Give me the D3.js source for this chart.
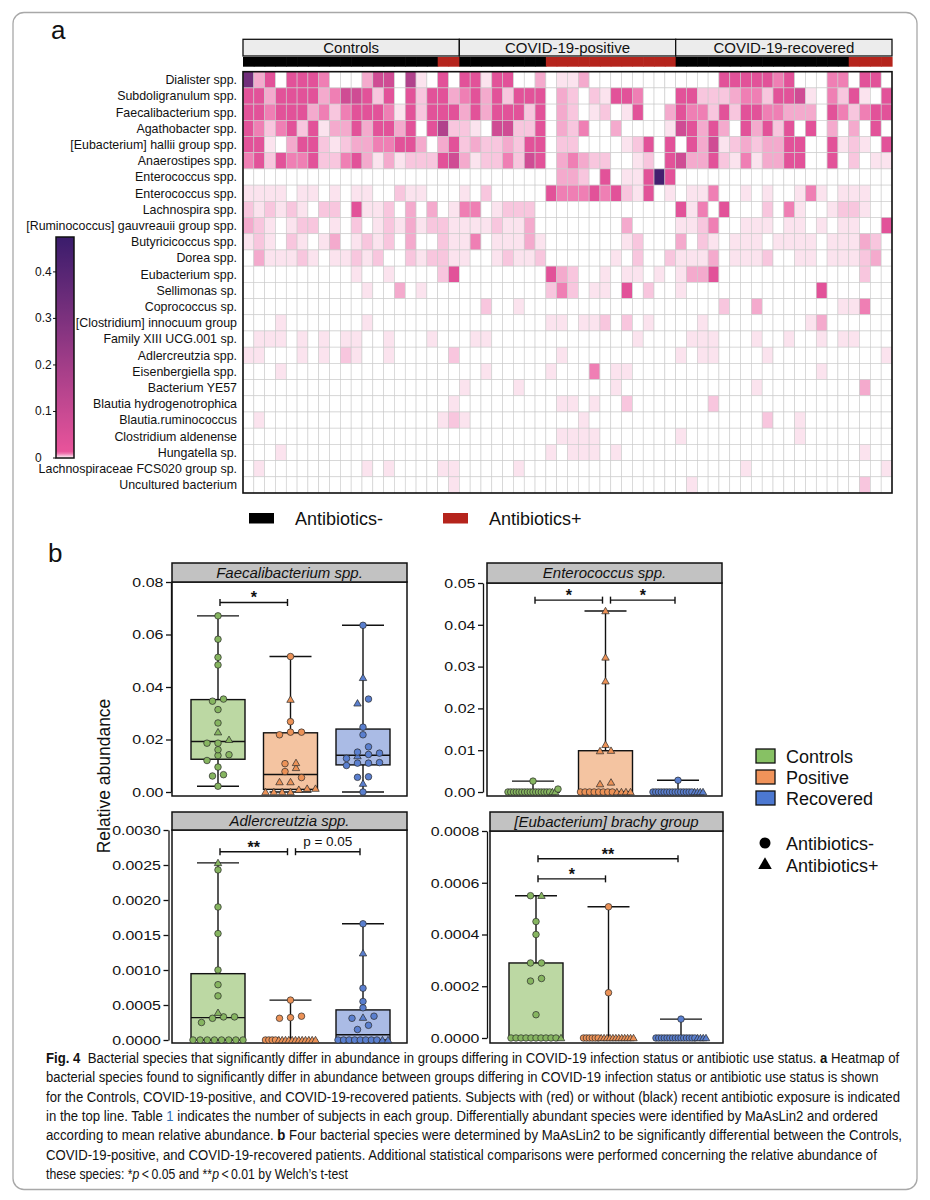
<!DOCTYPE html>
<html><head><meta charset="utf-8">
<script src="https://cdn.jsdelivr.net/npm/d3@7"></script>
<style>
body{margin:0;background:#fff}
svg{display:block}
text{font-family:"Liberation Sans",Arial,Helvetica,sans-serif;fill:#111}
</style>
</head><body>
<svg id="chart" width="930" height="1200"></svg>
<script>
// ===================== DATA =====================
// Heatmap (panel a)
const species = ["Dialister spp.","Subdoligranulum spp.","Faecalibacterium spp.","Agathobacter spp.",
  "[Eubacterium] hallii group spp.","Anaerostipes spp.","Enterococcus spp.","Enterococcus spp.",
  "Lachnospira spp.","[Ruminococcus] gauvreauii group spp.","Butyricicoccus spp.","Dorea spp.",
  "Eubacterium spp.","Sellimonas sp.","Coprococcus sp.","[Clostridium] innocuum group",
  "Family XIII UCG.001 sp.","Adlercreutzia spp.","Eisenbergiella spp.","Bacterium YE57",
  "Blautia hydrogenotrophica","Blautia.ruminococcus","Clostridium aldenense","Hungatella sp.",
  "Lachnospiraceae FCS020 group sp.","Uncultured bacterium"];
const cohortNames = ["Controls","COVID-19-positive","COVID-19-recovered"];
const cohortSizes = [20,20,20];
// 1 = recent antibiotic exposure (red), 0 = none (black), one char per subject column
const antibioticsBySubject = "00000000000000000011" + "00000000111111111111" + "00000000000000001111";
// estimated relative abundance for each intensity code
const abundanceOfCode = [0, 0.002, 0.004, 0.006, 0.009, 0.03, 0.08, 0.16, 0.33, 0.45];
// one string per species, one code per subject column (60 columns)
const heatCodes = [
 "835055540003660710505515500301130000000000005555545000440550",
 "553555534665250525534535255503202155400055222344255610425105",
 "554555342455541525553535552503201201500354425255443330542455",
 "542452513353553505722106622503240030000165353053525050303050",
 "551035521233445530352322325502200001250505361232335500512105",
 "452544522453131222563122426503432200120563352141335500502011",
 "000000000000000000000000000003320501159500000000000000000000",
 "111101101011002110001020000054445452150101140010100141011100",
 "212121022051120303014401222000000000000051405000204100122100",
 "321012201020121312211112113000000003000011240011101101011005",
 "121021013012120300211401113100000001200030210111011110111320",
 "031112101121200212211001211200000010200211130111200110111230",
 "000000000010010000250000000053200101101013350000000000000200",
 "000000000001003010000000000024201105020010000000000005000000",
 "000000000000000000000020010000000000000000002003000000011400",
 "000100000001000000000000000011011202010000100000000013000000",
 "011101010110010001000110000000000000100001110001001001011000",
 "110001010210010000020000000001000000000010110000100000000001",
 "000100000000000000000010000010004011000000000000000001000000",
 "000000000000000000001000010000000010000000000001000000000300",
 "000000000000000000010000000001101002000000020000000000000000",
 "010000000000000000121000000000010000000000000000200100000000",
 "000000000000000000000000000001111000000010000000000100000000",
 "000100000000000000000000000010111010000000000000000000000100",
 "010000000001010000110000010000000000000000000010000000000001",
 "000000000000000000010000000000000000000001000000000000000200"];
const colorbarTicks = [0, 0.1, 0.2, 0.3, 0.4];

// Box plots (panel b): values per group, split by antibiotic exposure
const boxGroups = ["Controls","Positive","Recovered"];
const faecalControlsAbxNeg = [0.0671,0.0582,0.0513,0.0484,0.0354,0.0346,0.0314,0.0263,0.0186,0.0186,0.0161,0.0142,0.0139,0.012,0.0095,0.0066,0.0061,0.0022];
const faecalControlsAbxPos = [0.0228,0.0199];
const faecalPositiveAbxNeg = [0.0516,0.0268,0.0228,0.0218,0.0228,0.0108,0.0078,0.0055];
const faecalPositiveAbxPos = [0.0352,0.0111,0.0092,0.0038,0.0038,0.0013,0.0013,0.0009,0,0,0,0];
const faecalRecoveredAbxNeg = [0.0635,0.0354,0.0247,0.0218,0.0172,0.0152,0.0148,0.0143,0.0128,0.0112,0.011,0.011,0.0101,0.0058,0.0056,0];
const faecalRecoveredAbxPos = [0.0435,0.0338,0.0137,0.0032];

const enteroControlsAbxNeg = [0.0026,0.0007,0,0,0,0,0,0,0,0,0,0,0,0,0,0,0,0];
const enteroControlsAbxPos = [0,0];
const enteroPositiveAbxNeg = [0,0,0,0,0,0,0,0];
const enteroPositiveAbxPos = [0.0433,0.0322,0.0265,0.0113,0.0099,0.0098,0.0023,0.0019,0,0,0,0];
const enteroRecoveredAbxNeg = [0.0028,0,0,0,0,0,0,0,0,0,0,0,0,0,0,0];
const enteroRecoveredAbxPos = [0,0,0,0];

const adlerControlsAbxNeg = [0.00243,0.0019,0.00152,0.001,0.00079,0.00063,0.00033,0.00033,0.00031,0.00025,0,0,0,0,0,0,0,0];
const adlerControlsAbxPos = [0.00253,0.00039];
const adlerPositiveAbxNeg = [0.00057,0.00034,0.00032,0.00031,0,0,0,0];
const adlerPositiveAbxPos = [0,0,0,0,0,0,0,0,0,0,0,0];
const adlerRecoveredAbxNeg = [0.00166,0.00074,0.00055,0.00046,0.00034,0.00031,0.00021,0.00015,0,0,0,0,0,0,0,0];
const adlerRecoveredAbxPos = [0.00124,0.00032,0,0];

const brachyControlsAbxNeg = [0.00055,0.00045,0.0004,0.00029,0.00029,0.00023,0.00022,0.00009,0,0,0,0,0,0,0,0,0,0];
const brachyControlsAbxPos = [0.00055,0];
const brachyPositiveAbxNeg = [0.000507,0.000175,0,0,0,0,0,0];
const brachyPositiveAbxPos = [0,0,0,0,0,0,0,0,0,0,0,0];
const brachyRecoveredAbxNeg = [0.000073,0,0,0,0,0,0,0,0,0,0,0,0,0,0,0];
const brachyRecoveredAbxPos = [0,0,0,0];

const faecalTicks = [0,0.02,0.04,0.06,0.08];
const enteroTicks = [0,0.01,0.02,0.03,0.04,0.05];
const adlerTicks = [0,0.0005,0.001,0.0015,0.002,0.0025,0.003];
const brachyTicks = [0,0.0002,0.0004,0.0006,0.0008];

// significance brackets: [from, to, height, label]
const faecalSignif = [["Controls","Positive",0.0722,"*"]];
const enteroSignif = [["Controls","Positive",0.0459,"*"],["Positive","Recovered",0.0459,"*"]];
const adlerSignif = [["Controls","Positive",0.00269,"**"],["Positive","Recovered",0.00269,"p = 0.05"]];
const brachySignif = [["Controls","Positive",0.000615,"*"],["Controls","Recovered",0.000693,"**"]];

const captionLines = [
 [["b","Fig. 4"],["n","  Bacterial species that significantly differ in abundance in groups differing in COVID-19 infection status or antibiotic use status. "],["b","a"],["n"," Heatmap of"]],
 [["n","bacterial species found to significantly differ in abundance between groups differing in COVID-19 infection status or antibiotic use status is shown"]],
 [["n","for the Controls, COVID-19-positive, and COVID-19-recovered patients. Subjects with (red) or without (black) recent antibiotic exposure is indicated"]],
 [["n","in the top line. Table "],["l","1"],["n"," indicates the number of subjects in each group. Differentially abundant species were identified by MaAsLin2 and ordered"]],
 [["n","according to mean relative abundance. "],["b","b"],["n"," Four bacterial species were determined by MaAsLin2 to be significantly differential between the Controls,"]],
 [["n","COVID-19-positive, and COVID-19-recovered patients. Additional statistical comparisons were performed concerning the relative abundance of"]],
 [["n","these species: *"],["i","p"],["n","\u2009<\u20090.05 and **"],["i","p"],["n","\u2009<\u20090.01 by Welch\u2019s t-test"]]
];

// ===================== DRAWING =====================
const svg = d3.select("#chart");

// figure frame
svg.append("rect").attr("x",13).attr("y",12.5).attr("width",904).attr("height",1177)
  .attr("rx",11).attr("fill","none").attr("stroke","#a8a8a8").attr("stroke-width",1.3);

svg.append("text").attr("x",51).attr("y",39).attr("font-size",26).text("a");
svg.append("text").attr("x",48).attr("y",562).attr("font-size",26).text("b");

// ---------- Heatmap ----------
const nCols = d3.sum(cohortSizes);
const hx = d3.scaleBand().domain(d3.range(nCols)).range([243,892]);
const hy = d3.scaleBand().domain(d3.range(species.length)).range([71.7,493]);
const heatColor = d3.scaleLinear().domain([0,0.012,0.475])
  .range(["#ffffff","#e9549b","#3a1c6c"]).clamp(true);

const cells = [];
heatCodes.forEach((row,r)=>{ for(let c=0;c<nCols;c++) cells.push({r,c,v:abundanceOfCode[+row[c]]}); });
svg.append("g").selectAll("rect").data(cells).join("rect")
  .attr("x",d=>hx(d.c)).attr("y",d=>hy(d.r))
  .attr("width",hx.bandwidth()).attr("height",hy.bandwidth())
  .attr("fill",d=>heatColor(d.v)).attr("stroke","#cbcbcb").attr("stroke-width",0.6);
svg.append("rect").attr("x",243).attr("y",71.7).attr("width",649).attr("height",493-71.7)
  .attr("fill","none").attr("stroke","#111").attr("stroke-width",1.6);

svg.append("g").selectAll("text").data(species).join("text")
  .attr("x",237).attr("y",(d,i)=>hy(i)+hy.bandwidth()/2+4.3)
  .attr("text-anchor","end").attr("font-size",12.4).text(d=>d);

// cohort header
let start = 0;
cohortNames.forEach((name,i)=>{
  const x0 = hx(start), x1 = hx(start+cohortSizes[i]-1)+hx.bandwidth();
  svg.append("rect").attr("x",x0).attr("y",39.3).attr("width",x1-x0).attr("height",16.7)
    .attr("fill","#ececec").attr("stroke","#111").attr("stroke-width",1.3);
  svg.append("text").attr("x",(x0+x1)/2).attr("y",53.2).attr("text-anchor","middle")
    .attr("font-size",15).text(name);
  start += cohortSizes[i];
});
svg.append("g").selectAll("rect").data(antibioticsBySubject.split("")).join("rect")
  .attr("x",(d,i)=>hx(i)).attr("y",57).attr("width",hx.bandwidth()+0.6).attr("height",9.7)
  .attr("fill",d=>d==="1"?"#b5241c":"#000");

// colour bar
const cbY = d3.scaleLinear().domain([0,0.475]).range([458,237]);
const grad = svg.append("defs").append("linearGradient").attr("id","cbar")
  .attr("x1",0).attr("y1",1).attr("x2",0).attr("y2",0);
d3.range(0,1.0001,0.01).forEach(t=>{
  grad.append("stop").attr("offset",t).attr("stop-color",heatColor(t*0.475));
});
svg.append("rect").attr("x",56).attr("y",237).attr("width",18).attr("height",221)
  .attr("fill","url(#cbar)").attr("stroke","#111").attr("stroke-width",1.5);
svg.append("g").selectAll("text").data(colorbarTicks).join("text")
  .attr("x",35).attr("y",d=>cbY(d)+4).attr("font-size",12).text(d=>d===0?"0":d3.format(".1f")(d));
svg.append("g").selectAll("line").data(colorbarTicks).join("line")
  .attr("x1",53).attr("x2",56).attr("y1",d=>cbY(d)).attr("y2",d=>cbY(d)).attr("stroke","#111");

// antibiotic legend under heatmap
[["Antibiotics-","#000",249,295],["Antibiotics+","#b5241c",443,489]].forEach(([t,c,rx,tx])=>{
  svg.append("rect").attr("x",rx).attr("y",513).attr("width",25).attr("height",10.5).attr("fill",c);
  svg.append("text").attr("x",tx).attr("y",525).attr("font-size",18).text(t);
});

// ---------- Box plots ----------
const groupFill = {Controls:"#bcd8a3",Positive:"#f4c4a1",Recovered:"#aabbe5"};
const pointFill = {Controls:"#86b560",Positive:"#ec9257",Recovered:"#5a7fcf"};
const legendFill = {Controls:"#87c164",Positive:"#f0935a",Recovered:"#4c78d1"};

function quant6(s,p){ const n=s.length; const h=(n+1)*p;
  if(h<=1) return s[0]; if(h>=n) return s[n-1];
  const lo=Math.floor(h); return s[lo-1]+(h-lo)*(s[lo]-s[lo-1]); }

function drawPanel(cfg){
  const g = svg.append("g");
  const y = d3.scaleLinear().domain([0,cfg.max]).range([cfg.zeroY,cfg.frameTop]);
  const x = d3.scalePoint().domain(boxGroups).range([cfg.x0+46,cfg.x0+191]);
  // frame and strip
  g.append("rect").attr("x",cfg.x0).attr("y",cfg.frameTop).attr("width",cfg.x1-cfg.x0)
    .attr("height",cfg.frameBottom-cfg.frameTop).attr("fill","#fff").attr("stroke","#111").attr("stroke-width",1.5);
  g.append("rect").attr("x",cfg.x0).attr("y",cfg.stripTop).attr("width",cfg.x1-cfg.x0)
    .attr("height",cfg.frameTop-cfg.stripTop).attr("fill","#c2c2c2").attr("stroke","#111").attr("stroke-width",1.5);
  g.append("text").attr("x",(cfg.x0+cfg.x1)/2).attr("y",(cfg.stripTop+cfg.frameTop)/2+5.4)
    .attr("text-anchor","middle").attr("font-size",15).attr("font-style","italic").text(cfg.title);
  // axis
  const ax = g.append("g").attr("transform",`translate(${cfg.axisX},0)`)
    .call(d3.axisLeft(y).tickValues(cfg.ticks).tickFormat(d3.format(cfg.fmt)).tickSize(5).tickSizeOuter(0));
  ax.select(".domain").attr("stroke","#111").attr("stroke-width",1.3);
  ax.selectAll(".tick line").attr("stroke","#111").attr("stroke-width",1.3);
  ax.selectAll(".tick text").attr("font-size",13.5).attr("font-family","Liberation Sans, Arial, sans-serif")
    .attr("fill","#111").attr("x",-6.5).attr("transform","scale(1.18,1)");

  boxGroups.forEach(gr=>{
    const vals = cfg.data[gr][0].concat(cfg.data[gr][1]).slice().sort(d3.ascending);
    const q1=quant6(vals,0.25), med=quant6(vals,0.5), q3=quant6(vals,0.75);
    const mn=vals[0], mx=vals[vals.length-1];
    const cx = x(gr), bw=54, cw=42;
    g.append("rect").attr("x",cx-bw/2).attr("y",y(q3)).attr("width",bw).attr("height",y(q1)-y(q3))
      .attr("fill",groupFill[gr]).attr("stroke","#111").attr("stroke-width",1.4);
    const wl = g.append("g").attr("stroke","#111").attr("stroke-width",1.4);
    wl.append("line").attr("x1",cx).attr("x2",cx).attr("y1",y(q3)).attr("y2",y(mx));
    wl.append("line").attr("x1",cx).attr("x2",cx).attr("y1",y(q1)).attr("y2",y(mn));
    wl.append("line").attr("x1",cx-cw/2).attr("x2",cx+cw/2).attr("y1",y(mx)).attr("y2",y(mx));
    wl.append("line").attr("x1",cx-cw/2).attr("x2",cx+cw/2).attr("y1",y(mn)).attr("y2",y(mn));
    wl.append("line").attr("x1",cx-bw/2).attr("x2",cx+bw/2).attr("y1",y(med)).attr("y2",y(med));

    // points (binned swarm)
    const pts = cfg.data[gr][0].map(v=>({v,tri:0})).concat(cfg.data[gr][1].map(v=>({v,tri:1})))
      .sort((a,b)=>a.v-b.v || a.tri-b.tri);
    const bins=[];
    pts.forEach(p=>{ p.py=y(p.v); const last=bins[bins.length-1];
      if(last && Math.abs(p.py-last.y0)<=6) last.items.push(p); else bins.push({y0:p.py,items:[p]}); });
    bins.forEach(b=>{ const n=b.items.length; const s=n>1?Math.min(11,50/(n-1)):0;
      b.items.forEach((p,i)=>{ p.px=cx+(i-(n-1)/2)*s; }); });
    const tri = d3.symbol(d3.symbolTriangle,24);
    g.append("g").selectAll("path").data(pts).join("path")
      .attr("d",d=>d.tri?tri():d3.symbol(d3.symbolCircle,34)())
      .attr("transform",d=>`translate(${d.px},${d.py+(d.tri?0.6:0)})`)
      .attr("fill",pointFill[gr]).attr("stroke","#2a2a2a").attr("stroke-width",0.7);
  });

  // significance brackets
  cfg.signif.forEach(([a,b,h,lab])=>{
    const xa = x(a)+2+(a==="Positive"?3:0), xb = x(b)-3, yy=y(h);
    const br = g.append("g").attr("stroke","#111").attr("stroke-width",1.4);
    br.append("line").attr("x1",xa).attr("x2",xb).attr("y1",yy).attr("y2",yy);
    br.append("line").attr("x1",xa).attr("x2",xa).attr("y1",yy-3.5).attr("y2",yy+3.5);
    br.append("line").attr("x1",xb).attr("x2",xb).attr("y1",yy-3.5).attr("y2",yy+3.5);
    const isP = lab.startsWith("p");
    g.append("text").attr("x",(xa+xb)/2).attr("y",isP?yy-6:yy+1).attr("text-anchor","middle")
      .attr("font-size",isP?13.5:16).attr("font-weight",isP?"normal":"bold").text(lab);
  });
}

drawPanel({title:"Faecalibacterium spp.",x0:172,x1:407,axisX:171,stripTop:563,frameTop:582,frameBottom:796,zeroY:792,max:0.08,
  ticks:faecalTicks,fmt:".2f",signif:faecalSignif,
  data:{Controls:[faecalControlsAbxNeg,faecalControlsAbxPos],Positive:[faecalPositiveAbxNeg,faecalPositiveAbxPos],Recovered:[faecalRecoveredAbxNeg,faecalRecoveredAbxPos]}});
drawPanel({title:"Enterococcus spp.",x0:487,x1:722,axisX:483,stripTop:563,frameTop:583,frameBottom:796,zeroY:792,max:0.05,
  ticks:enteroTicks,fmt:".2f",signif:enteroSignif,
  data:{Controls:[enteroControlsAbxNeg,enteroControlsAbxPos],Positive:[enteroPositiveAbxNeg,enteroPositiveAbxPos],Recovered:[enteroRecoveredAbxNeg,enteroRecoveredAbxPos]}});
drawPanel({title:"Adlercreutzia spp.",x0:172,x1:407,axisX:168.5,stripTop:812,frameTop:830,frameBottom:1043,zeroY:1040,max:0.003,
  ticks:adlerTicks,fmt:".4f",signif:adlerSignif,
  data:{Controls:[adlerControlsAbxNeg,adlerControlsAbxPos],Positive:[adlerPositiveAbxNeg,adlerPositiveAbxPos],Recovered:[adlerRecoveredAbxNeg,adlerRecoveredAbxPos]}});
drawPanel({title:"[Eubacterium] brachy group",x0:490,x1:723,axisX:487,stripTop:812,frameTop:831,frameBottom:1043,zeroY:1038,max:0.0008,
  ticks:brachyTicks,fmt:".4f",signif:brachySignif,
  data:{Controls:[brachyControlsAbxNeg,brachyControlsAbxPos],Positive:[brachyPositiveAbxNeg,brachyPositiveAbxPos],Recovered:[brachyRecoveredAbxNeg,brachyRecoveredAbxPos]}});

svg.append("text").attr("transform","translate(110,776) rotate(-90)").attr("text-anchor","middle")
  .attr("font-size",17.5).text("Relative abundance");

// right legend
boxGroups.forEach((gr,i)=>{
  const yy = 756+21*i;
  svg.append("rect").attr("x",756).attr("y",yy-7).attr("width",19).attr("height",14)
    .attr("fill",legendFill[gr]).attr("stroke","#111").attr("stroke-width",1.3);
  svg.append("text").attr("x",786).attr("y",yy+6.5).attr("font-size",18).text(gr);
});
svg.append("path").attr("d",d3.symbol(d3.symbolCircle,95)()).attr("transform","translate(765,843)").attr("fill","#000");
svg.append("path").attr("d",d3.symbol(d3.symbolTriangle,80)()).attr("transform","translate(765,865)").attr("fill","#000");
svg.append("text").attr("x",786).attr("y",849.5).attr("font-size",18).text("Antibiotics-");
svg.append("text").attr("x",786).attr("y",871.5).attr("font-size",18).text("Antibiotics+");

// caption: each line scaled horizontally to its width in the reference
const capEnd = [900,879,900,879,903,878,348];
captionLines.forEach((segs,i)=>{
  const t = svg.append("text").attr("x",0).attr("y",0).attr("font-size",15.5)
    .style("font-family","'Liberation Sans Narrow','Liberation Sans',sans-serif")
    .attr("fill","#1c1c1c").attr("xml:space","preserve");
  segs.forEach(([k,s])=>{
    const ts = t.append("tspan").text(s);
    if(k==="b") ts.attr("font-weight","bold");
    if(k==="i") ts.attr("font-style","italic");
    if(k==="l") ts.attr("fill","#2f6db5");
  });
  const w = t.node().getComputedTextLength();
  const sx = (capEnd[i]-46)/w;
  t.attr("transform",`translate(46,${1063+19.3*i}) scale(${sx},1)`);
});
</script>
</body></html>
